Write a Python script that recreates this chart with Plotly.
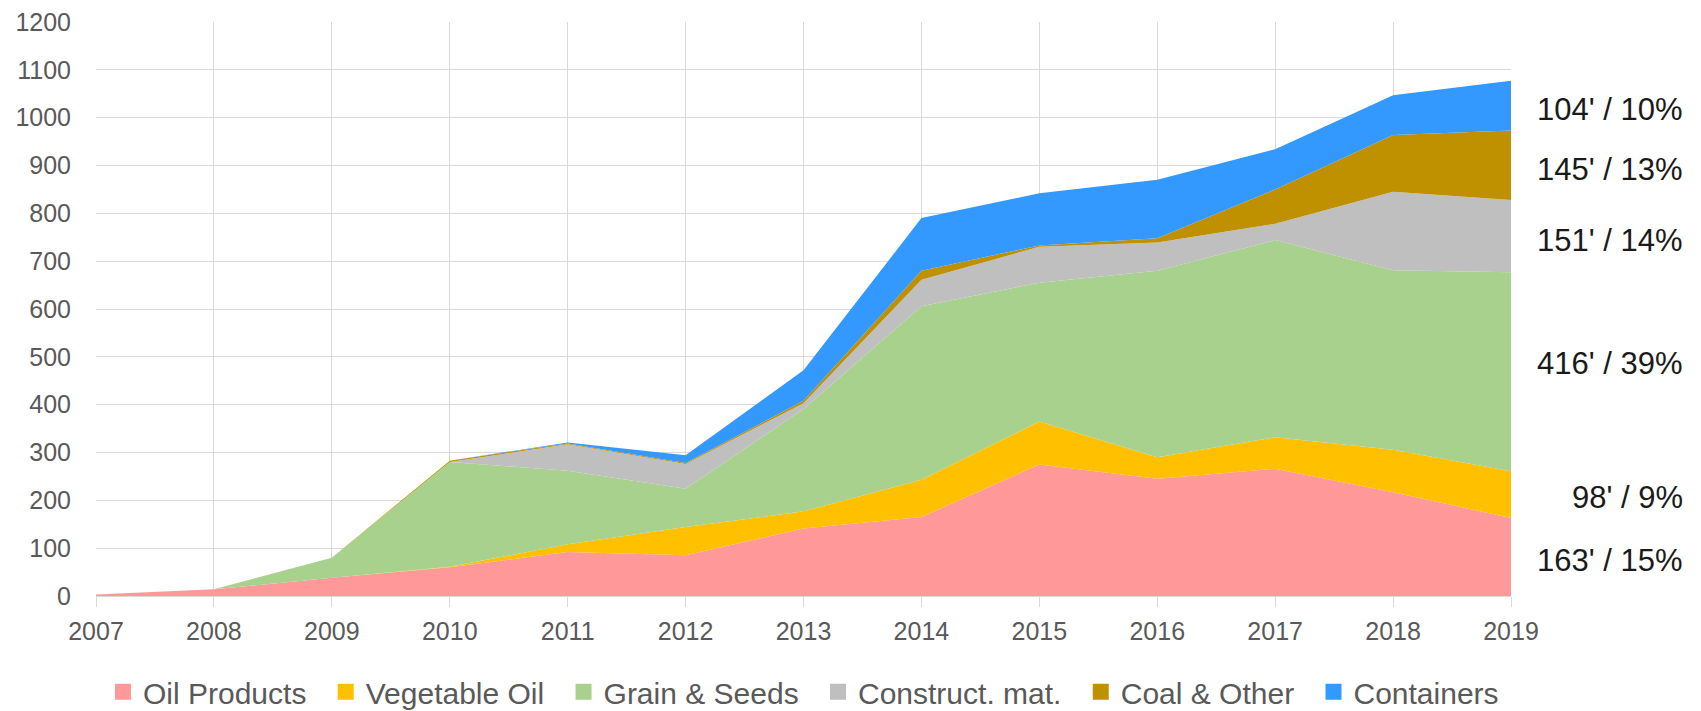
import plotly.graph_objects as go

years = [2007, 2008, 2009, 2010, 2011, 2012, 2013, 2014, 2015, 2016, 2017, 2018, 2019]

oil_products = [3, 14, 38, 60, 92, 85, 141, 165, 275, 245, 266, 217, 163]
vegetable_oil = [0, 0, 0, 1, 16, 59, 36, 78, 90, 45, 66, 89, 98]
grain_seeds = [0, 0, 42, 219, 154, 80, 214, 363, 290, 390, 412, 375, 416]
construct_mat = [0, 0, 0, 0, 55, 52, 12, 55, 75, 59, 34, 164, 151]
coal_other = [0, 0, 0, 3, 2, 2, 5, 19, 3, 9, 72, 119, 145]
containers = [0, 0, 0, 0, 2, 16, 64, 110, 109, 122, 84, 83, 104]

series_names = ["Oil Products", "Vegetable Oil", "Grain & Seeds", "Construct. mat.", "Coal & Other", "Containers"]
series_values = [oil_products, vegetable_oil, grain_seeds, construct_mat, coal_other, containers]
series_colors = ["#FF9999", "#FFC000", "#A9D18E", "#BFBFBF", "#BF9000", "#3399FF"]

end_labels = ["163' / 15%", "98' / 9%", "416' / 39%", "151' / 14%", "145' / 13%", "104' / 10%"]
label_pos_y = [0.0627, 0.1716, 0.4059, 0.6202, 0.7439, 0.8467]

FONT = "Liberation Sans"
PAD = "\u00a0\u2009"

fig = go.Figure()
for name, vals, col in zip(series_names, series_values, series_colors):
    fig.add_trace(go.Scatter(
        x=years, y=vals, name=name, stackgroup="one", mode="lines",
        line=dict(width=0, color=col), fillcolor=col, showlegend=False,
    ))
for i, (name, col) in enumerate(zip(series_names, series_colors)):
    label = name + (PAD if i < len(series_names) - 1 else "")
    fig.add_trace(go.Scatter(
        x=[None], y=[None], name=label, mode="markers",
        marker=dict(symbol="square", size=18, color=col), showlegend=True,
    ))

for txt, py in zip(end_labels, label_pos_y):
    fig.add_annotation(
        xref="paper", yref="paper", x=1.123, y=py, text=txt, showarrow=False,
        xanchor="right", yanchor="middle",
        font=dict(family=FONT, size=31, color="#1a1a1a"),
    )

fig.update_layout(
    width=1701, height=711,
    margin=dict(l=96, r=190, t=22, b=115, autoexpand=False),
    paper_bgcolor="white", plot_bgcolor="white",
    font=dict(family=FONT, color="#595959"),
    legend=dict(
        orientation="h", x=0.5, xanchor="center", y=-0.167, yanchor="middle",
        font=dict(family=FONT, size=30, color="#595959"),
        bgcolor="rgba(0,0,0,0)", traceorder="normal",
    ),
    showlegend=True,
)
fig.update_xaxes(
    range=[2007, 2019], tickvals=years, tickformat="d",
    showgrid=True, gridcolor="#D9D9D9", gridwidth=1,
    showline=True, linecolor="#D9D9D9", linewidth=1,
    ticks="outside", ticklen=10, tickcolor="#D9D9D9",
    ticklabelstandoff=3,
    tickfont=dict(family=FONT, size=25, color="#595959"),
    zeroline=False, mirror=False,
)
fig.update_yaxes(
    range=[0, 1200], dtick=100,
    showgrid=True, gridcolor="#D9D9D9", gridwidth=1,
    showline=False, zeroline=False, ticks="",
    ticklabelstandoff=24,
    tickfont=dict(family=FONT, size=25, color="#595959"),
)

fig.write_html(
    "out.html",
    config={"displayModeBar": False},
    post_script="document.body.style.margin='0';document.body.style.overflow='hidden';",
)
